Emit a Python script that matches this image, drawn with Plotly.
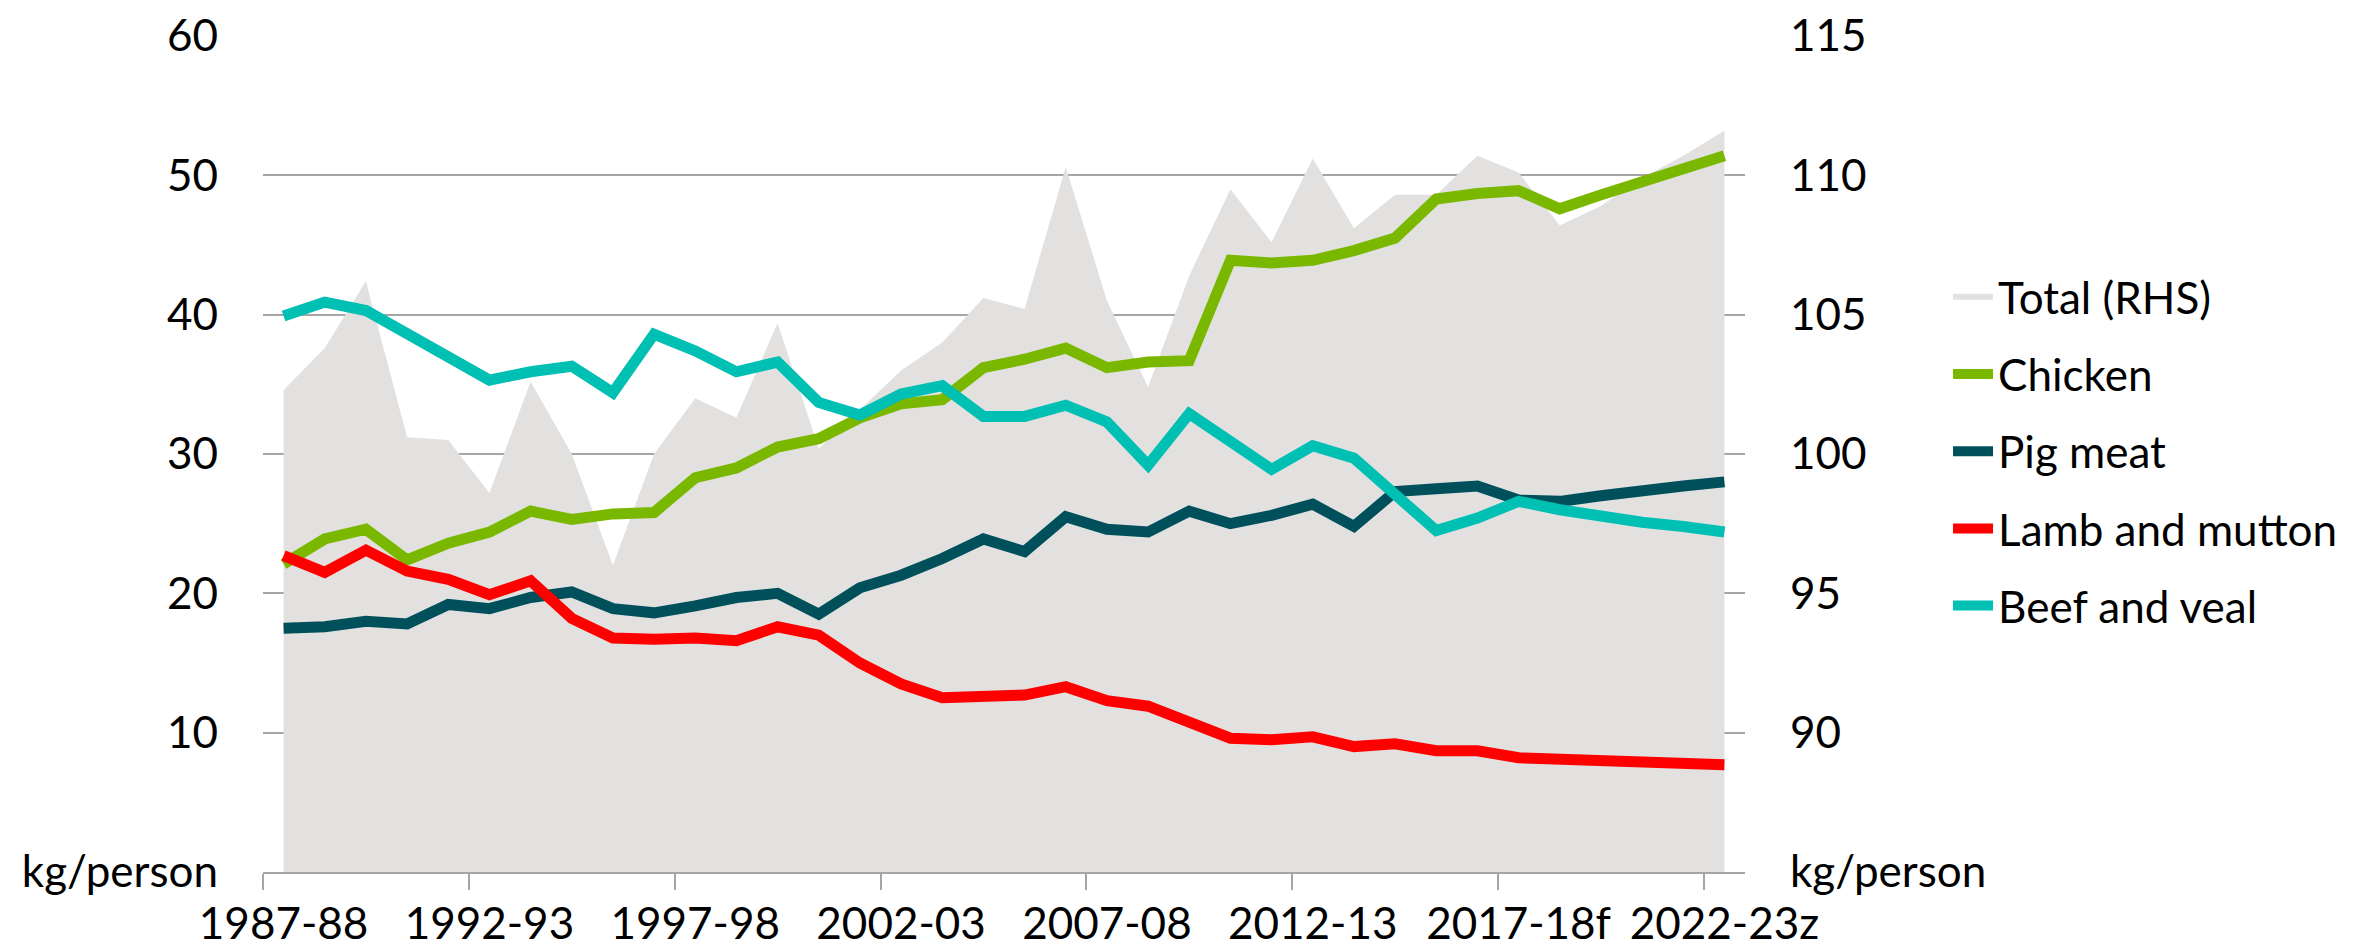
import plotly.graph_objects as go

years = [f"{y}-{str(y + 1)[-2:]}" for y in range(1987, 2023)]
years = [y + ("f" if y == "2017-18" else ("z" if int(y[:4]) >= 2018 else "")) for y in years]

total_rhs = [102.3, 103.8, 106.2, 100.6, 100.5, 98.6, 102.6, 100.0, 96.0, 100.0,
             102.0, 101.3, 104.7, 100.2, 101.6, 103.0, 104.0, 105.6, 105.2, 110.3,
             105.5, 102.4, 106.4, 109.5, 107.6, 110.6, 108.1, 109.3, 109.3, 110.7,
             110.1, 108.2, 108.9, 109.9, 110.7, 111.6]
chicken = [22.1, 23.9, 24.6, 22.4, 23.6, 24.4, 25.9, 25.3, 25.7, 25.8,
           28.3, 29.0, 30.5, 31.1, 32.6, 33.6, 33.9, 36.2, 36.8, 37.6,
           36.2, 36.6, 36.7, 43.9, 43.7, 43.9, 44.6, 45.5, 48.3, 48.7,
           48.9, 47.6, 48.6, 49.5, 50.5, 51.4]
pig_meat = [17.5, 17.6, 18.0, 17.8, 19.2, 18.9, 19.7, 20.1, 18.9, 18.6,
            19.1, 19.7, 20.0, 18.5, 20.4, 21.3, 22.5, 23.9, 23.0, 25.5,
            24.6, 24.4, 25.9, 25.0, 25.6, 26.4, 24.8, 27.3, 27.5, 27.7,
            26.7, 26.6, 27.0, 27.4, 27.7, 28.0]
lamb_mutton = [22.7, 21.5, 23.1, 21.6, 21.0, 19.9, 20.9, 18.2, 16.8, 16.7,
               16.8, 16.6, 17.6, 17.0, 15.0, 13.5, 12.5, 12.6, 12.7, 13.3,
               12.3, 11.9, 10.7, 9.6, 9.5, 9.7, 9.0, 9.2, 8.7, 8.7,
               8.2, 8.1, 7.9, 7.8, 7.8, 7.7]
beef_veal = [39.9, 40.9, 40.3, 38.6, 36.8, 35.3, 35.9, 36.3, 34.4, 38.6,
             37.4, 35.9, 36.6, 33.7, 32.8, 34.3, 34.9, 32.7, 32.7, 33.5,
             32.3, 29.2, 32.9, 31.0, 28.9, 30.6, 29.7, 27.1, 24.5, 25.4,
             26.6, 26.0, 25.5, 25.1, 24.8, 24.4]

left_ticks = [0, 10, 20, 30, 40, 50, 60]
left_text = ["kg/person", "10", "20", "30", "40", "50", "60"]
right_ticks = [85, 90, 95, 100, 105, 110, 115]
right_text = ["kg/person", "90", "95", "100", "105", "110", "115"]

FONT = "Lato, 'Open Sans', sans-serif"
GRID = "#A6A6A6"

fig = go.Figure()
fig.add_trace(go.Scatter(x=years, y=total_rhs, name="Total (RHS)", mode="none",
                         fill="tozeroy", fillcolor="#E2E1E0", yaxis="y",
                         legendgroup="a"))
series = [("Chicken", chicken, "#7AB800"), ("Pig meat", pig_meat, "#00505C"),
          ("Lamb and mutton", lamb_mutton, "#FF0000"), ("Beef and veal", beef_veal, "#00BFB3")]
for i, (name, vals, col) in enumerate(series):
    fig.add_trace(go.Scatter(x=years, y=vals, name=name, mode="lines", yaxis="y2",
                             line=dict(color=col, width=11), legendgroup=f"g{i}"))

fig.update_layout(
    width=2366, height=950,
    margin=dict(l=255, r=629, t=28, b=86),
    paper_bgcolor="white", plot_bgcolor="white",
    font=dict(family=FONT, size=44, color="#000000"),
    showlegend=True,
    legend=dict(x=1.137, y=0.73, xanchor="left", yanchor="top",
                traceorder="grouped", tracegroupgap=17,
                font=dict(family=FONT, size=44), itemwidth=40,
                bgcolor="rgba(0,0,0,0)"),
    xaxis=dict(type="category", range=[-0.5, 35.5], tickmode="linear", tick0=0, dtick=5,
               tickson="boundaries", ticks="outside", ticklen=16, tickwidth=2,
               tickcolor=GRID, showline=True, linecolor=GRID, linewidth=2,
               showgrid=False, zeroline=False, ticklabelstandoff=12, tickangle=0,
               automargin=False, tickfont=dict(family=FONT, size=44)),
    yaxis=dict(range=[85, 115], tickvals=right_ticks, ticktext=right_text, side="right",
               showgrid=True, gridcolor=GRID, gridwidth=2, zeroline=False,
               showline=False, ticks="", ticklabelstandoff=44, automargin=False,
               tickfont=dict(family=FONT, size=44)),
    yaxis2=dict(range=[0, 60], tickvals=left_ticks, ticktext=left_text, side="left",
                overlaying="y", showgrid=False, zeroline=False, showline=False,
                ticks="", ticklabelstandoff=44, automargin=False,
                tickfont=dict(family=FONT, size=44)),
)

fig.write_html("out.html")
